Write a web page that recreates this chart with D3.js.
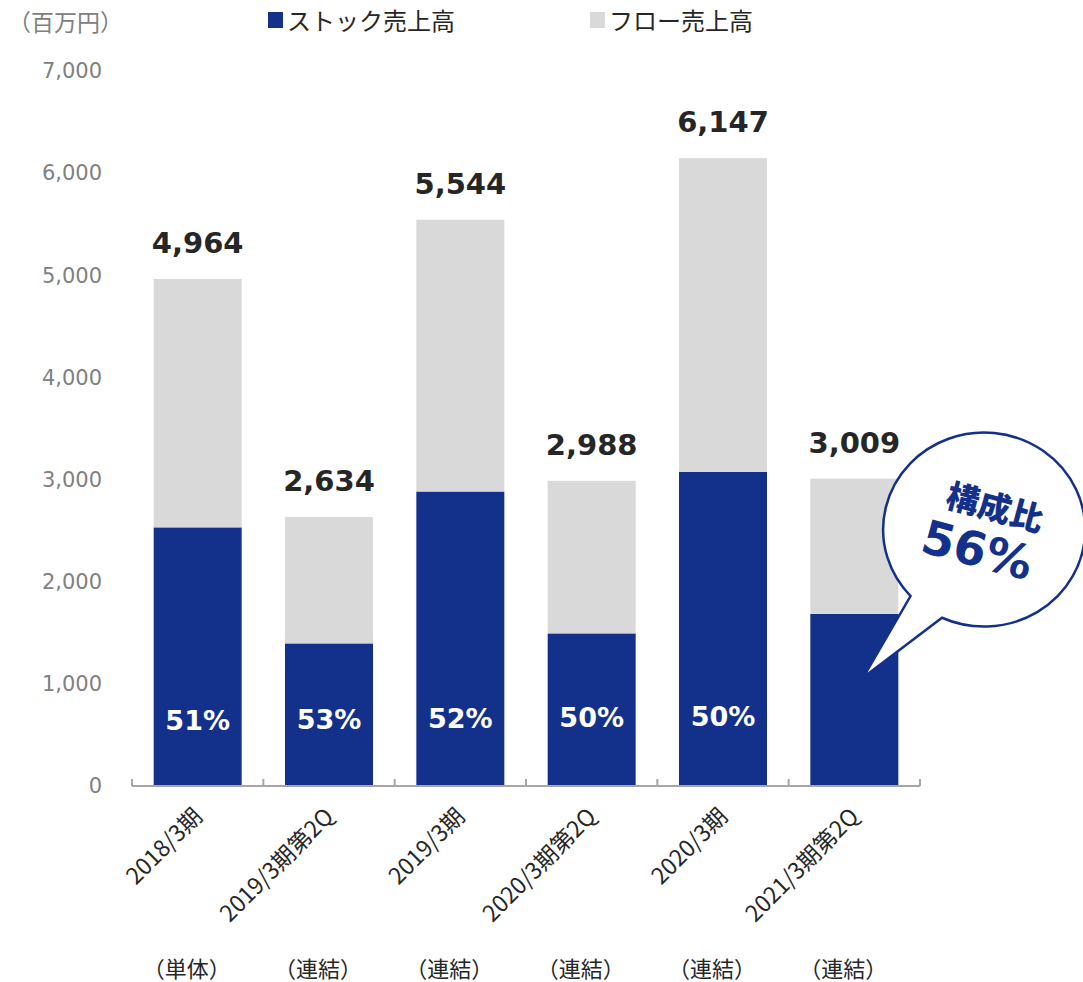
<!DOCTYPE html>
<html>
<head>
<meta charset="utf-8">
<script src="https://cdn.jsdelivr.net/npm/d3@7"></script>
<style>
  html, body { margin: 0; padding: 0; background: #fff; }
  svg { display: block; }
</style>
</head>
<body>
<svg id="chart" width="1083" height="982"></svg>
<script>
// Sales by fiscal period (million yen)
const periods = ["2018/3期", "2019/3期第2Q", "2019/3期", "2020/3期第2Q", "2020/3期", "2021/3期第2Q"];
const scopes = ["（単体）", "（連結）", "（連結）", "（連結）", "（連結）", "（連結）"];
const totalSales = [4964, 2634, 5544, 2988, 6147, 3009];
const stockSales = [2532, 1396, 2883, 1494, 3074, 1685];
const yTicks = [0, 1000, 2000, 3000, 4000, 5000, 6000, 7000];
const seriesNames = ["ストック売上高", "フロー売上高"];

const NAVY = "#13308a";
const LIGHT = "#d9d9d9";
const NUM_FONT = "'DejaVu Sans', Verdana, sans-serif";
const JP_FONT = "'Noto Sans CJK JP', 'Noto Sans', sans-serif";

const rows = periods.map((p, i) => ({
  period: p,
  scope: scopes[i],
  total: totalSales[i],
  stock: stockSales[i],
  flow: totalSales[i] - stockSales[i],
  pct: Math.round(stockSales[i] / totalSales[i] * 100)
}));

const svg = d3.select("#chart");

const x = d3.scaleBand()
  .domain(periods)
  .range([132, 920])
  .paddingInner(0.33)
  .paddingOuter(0.165);

const y = d3.scaleLinear().domain([0, 7000]).range([786, 71]);

// y tick labels (no axis line)
const yAxis = svg.append("g")
  .attr("transform", "translate(102,0)")
  .call(d3.axisLeft(y).tickValues(yTicks).tickSize(0).tickPadding(0).tickFormat(d3.format(",")));
yAxis.select(".domain").remove();
yAxis.selectAll("text")
  .attr("fill", "#808080")
  .style("font-family", NUM_FONT)
  .style("font-size", "21px");

// unit label
svg.append("text")
  .attr("x", 8).attr("y", 31)
  .attr("fill", "#808080")
  .style("font-family", JP_FONT)
  .style("font-size", "23px")
  .text("（百万円）");

// stacked bars
const stack = d3.stack().keys(["stock", "flow"]);
const layers = stack(rows);
const colors = [NAVY, LIGHT];

svg.append("g").selectAll("g")
  .data(layers)
  .join("g")
  .attr("fill", (d, i) => colors[i])
  .selectAll("rect")
  .data(d => d)
  .join("rect")
  .attr("x", d => x(d.data.period))
  .attr("width", x.bandwidth())
  .attr("y", d => y(d[1]))
  .attr("height", d => y(d[0]) - y(d[1]));

// x axis line with ticks at the band boundaries
const xAxisG = svg.append("g");
xAxisG.append("line")
  .attr("x1", x.range()[0]).attr("x2", x.range()[1])
  .attr("y1", y(0)).attr("y2", y(0))
  .attr("stroke", "#a6a6a6").attr("stroke-width", 2);
const bounds = periods.map(p => x(p) - x.step() * x.paddingInner() / 2).concat([x.range()[1]]);
xAxisG.selectAll("line.tick")
  .data(bounds)
  .join("line")
  .attr("class", "tick")
  .attr("x1", d => d).attr("x2", d => d)
  .attr("y1", y(0) - 7).attr("y2", y(0))
  .attr("stroke", "#a6a6a6").attr("stroke-width", 2);

// total labels above bars
svg.append("g").selectAll("text")
  .data(rows)
  .join("text")
  .attr("x", d => x(d.period) + x.bandwidth() / 2)
  .attr("y", d => y(d.total) - 26)
  .attr("text-anchor", "middle")
  .attr("fill", "#262626")
  .style("font-family", NUM_FONT)
  .style("font-weight", "bold")
  .style("font-size", "29px")
  .text(d => d3.format(",")(d.total));

// stock share labels inside bars (last period shown in the callout)
svg.append("g").selectAll("text")
  .data(rows.slice(0, rows.length - 1))
  .join("text")
  .attr("x", d => x(d.period) + x.bandwidth() / 2)
  .attr("y", (d, i) => y(650) + 10 - i)
  .attr("text-anchor", "middle")
  .attr("fill", "#ffffff")
  .style("font-family", NUM_FONT)
  .style("font-weight", "bold")
  .style("font-size", "27px")
  .text(d => d.pct + "%");

// rotated period labels
svg.append("g").selectAll("text")
  .data(rows)
  .join("text")
  .attr("transform", d => `translate(${x(d.period) + x.bandwidth() / 2 + 6},${y(0) + 32}) rotate(-45)`)
  .attr("text-anchor", "end")
  .attr("fill", "#262626")
  .style("font-family", JP_FONT)
  .style("font-size", "23px")
  .text(d => d.period);

// consolidation scope labels
svg.append("g").selectAll("text")
  .data(rows)
  .join("text")
  .attr("x", d => x(d.period) + x.bandwidth() / 2 - 11)
  .attr("y", 977)
  .attr("text-anchor", "middle")
  .attr("fill", "#262626")
  .style("font-family", JP_FONT)
  .style("font-size", "22px")
  .text(d => d.scope);

// legend
const legend = svg.append("g");
const legendX = [268, 590];
seriesNames.forEach((name, i) => {
  legend.append("rect")
    .attr("x", legendX[i]).attr("y", 12)
    .attr("width", 15).attr("height", 16)
    .attr("fill", colors[i]);
  legend.append("text")
    .attr("x", legendX[i] + 19).attr("y", 30)
    .attr("fill", "#262626")
    .style("font-family", JP_FONT)
    .style("font-size", "24px")
    .text(name);
});

// callout bubble for the latest period's stock share
const last = rows[rows.length - 1];
const tipX = x(last.period) + x.bandwidth() * 0.6;
const tipY = y(last.stock * 0.63);
const cx = tipX + 121, cy = tipY - 148;
const rx = 101, ry = 97;
const a1 = Math.atan2(65 / ry, -72 / rx);   // tail start on ellipse
const a2 = Math.atan2(88 / ry, -42 / rx);   // tail end on ellipse
const p1 = [cx + rx * Math.cos(a1), cy + ry * Math.sin(a1)];
const p2 = [cx + rx * Math.cos(a2), cy + ry * Math.sin(a2)];
const bubblePath = `M${p2[0]},${p2[1]} A${rx},${ry} 0 1 0 ${p1[0]},${p1[1]} L${tipX},${tipY} Z`;
svg.append("path")
  .attr("d", bubblePath)
  .attr("fill", "#ffffff")
  .attr("stroke", NAVY)
  .attr("stroke-width", 2.5)
  .attr("stroke-linejoin", "miter");

const bubbleText = svg.append("g")
  .attr("transform", `translate(${cx + 3},${cy + 7}) rotate(15)`);
bubbleText.append("text")
  .attr("x", 0).attr("y", -18)
  .attr("text-anchor", "middle")
  .attr("fill", NAVY)
  .style("font-family", JP_FONT)
  .style("font-weight", "900")
  .style("font-size", "33px")
  .text("構成比");
bubbleText.append("text")
  .attr("x", -6).attr("y", 32)
  .attr("text-anchor", "middle")
  .attr("fill", NAVY)
  .style("font-family", NUM_FONT)
  .style("font-weight", "bold")
  .style("font-size", "47px")
  .text(last.pct + "%");
</script>
</body>
</html>
